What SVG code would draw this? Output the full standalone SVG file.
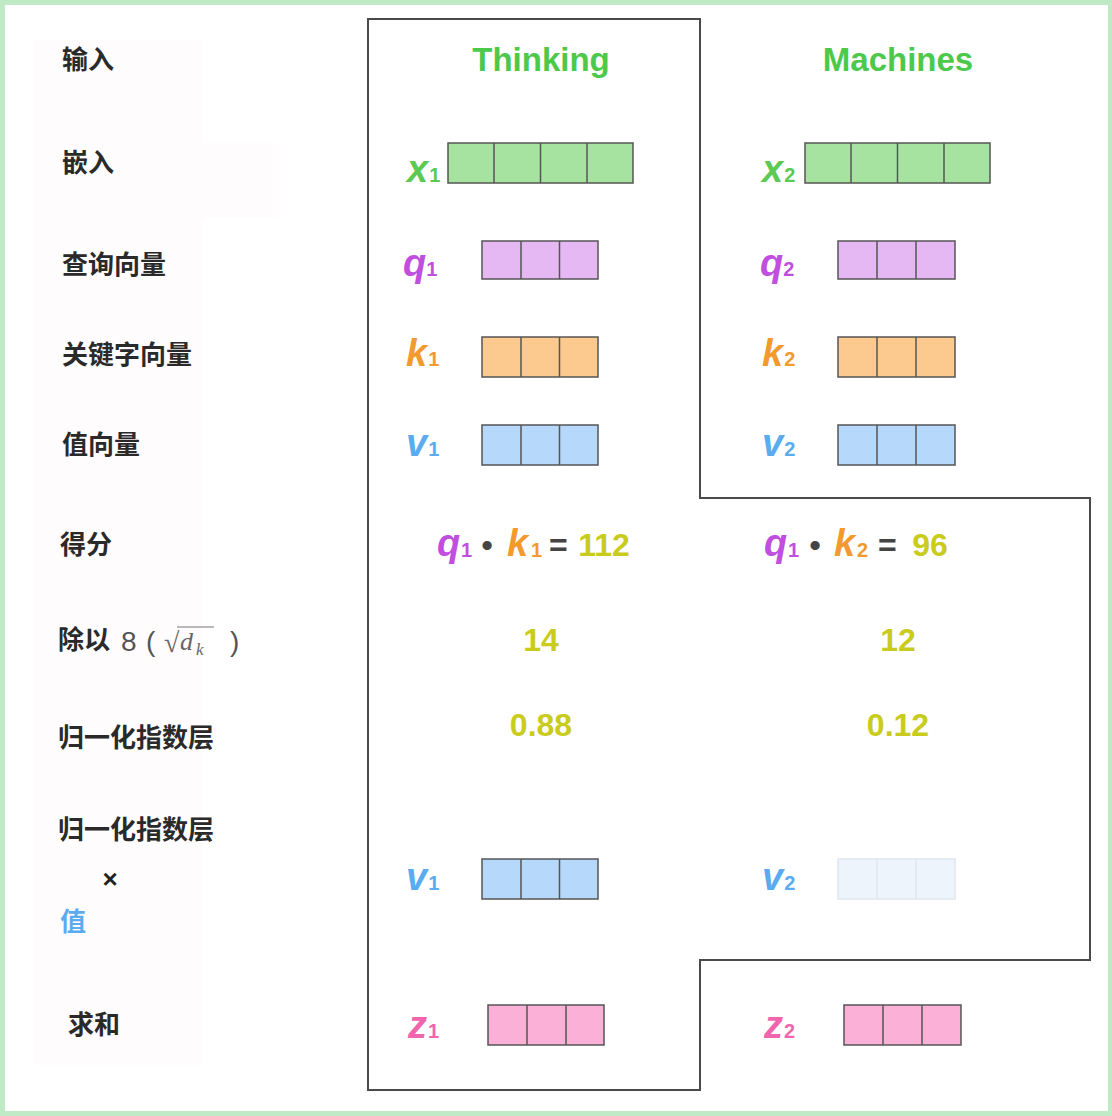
<svg xmlns="http://www.w3.org/2000/svg" width="1112" height="1116" viewBox="0 0 1112 1116">
<style>
.lbl{font-family:"Noto Sans CJK SC","Liberation Sans",sans-serif;font-size:26px;font-weight:bold;fill:#2a2a2a}
.title{font-family:"Liberation Sans",Arial,sans-serif;font-size:33px;font-weight:bold;fill:#4cc94a;text-anchor:middle}
.v{font-family:"Liberation Sans",Arial,sans-serif;font-size:38px;font-weight:bold;font-style:italic}
.sub{font-family:"Liberation Sans",Arial,sans-serif;font-size:20px;font-style:normal;font-weight:bold}
.num{font-family:"Liberation Sans",Arial,sans-serif;font-size:32px;font-weight:bold;fill:#c9cb1d;text-anchor:middle}
.op{font-family:"Liberation Sans",Arial,sans-serif;font-size:32px;font-weight:bold;fill:#444}
.cg{fill:#5cc955}.cq{fill:#c04fe0}.ck{fill:#f39a2e}.cv{fill:#5aabf0}.cz{fill:#f065ac}
.cell{stroke:#555;stroke-width:1.5}
.g{fill:#a6e3a0}.p{fill:#e6b8f3}.o{fill:#fcc98f}.b{fill:#b6d9fb}.pk{fill:#fbb1d7}
.fade{fill:#eef4fc;stroke:#dfe6ef;stroke-width:1.5}
.math{font-family:"Liberation Serif","DejaVu Serif",serif;fill:#666}
.outline{fill:none;stroke:#4a4a4a;stroke-width:2}
</style>
<rect x="0" y="0" width="1112" height="1116" fill="#bfeac5"/>
<rect x="5" y="5" width="1103" height="1106" fill="#ffffff"/>
<rect x="33" y="40" width="170" height="1025" fill="#fefcfc"/>
<rect x="200" y="143" width="77" height="75" fill="#fefcfc"/>

<g id="outline"><path class="outline" d="M368 19 H700 V498 H1090 V960 H700 V1090 H368 Z"/></g>

<g id="row-labels">
<text class="lbl" x="62" y="69">输入</text>
<text class="lbl" x="62" y="172">嵌入</text>
<text class="lbl" x="62" y="274">查询向量</text>
<text class="lbl" x="62" y="364">关键字向量</text>
<text class="lbl" x="62" y="454">值向量</text>
<text class="lbl" x="60" y="554">得分</text>
<text class="lbl" x="58" y="649">除以<tspan font-family="Liberation Sans,sans-serif" font-weight="normal" font-size="28" fill="#555" x="121" y="651">8</tspan><tspan font-family="Liberation Sans,sans-serif" font-weight="normal" font-size="28" fill="#555" x="146" y="651">(</tspan></text>
<text class="math" x="164" y="652" font-size="28">√</text>
<text class="math" x="180" y="650" font-size="26" font-style="italic">d</text>
<text class="math" x="196" y="655" font-size="17" font-style="italic">k</text>
<line x1="177" y1="627" x2="214" y2="627" stroke="#777" stroke-width="1.2"/>
<text font-family="Liberation Sans,sans-serif" font-size="28" fill="#555" x="230" y="651">)</text>
<text class="lbl" x="58" y="747">归一化指数层</text>
<text class="lbl" x="58" y="839">归一化指数层</text>
<text font-family="Liberation Sans,sans-serif" font-size="26" font-weight="bold" fill="#222" x="110" y="888" text-anchor="middle">×</text>
<text class="lbl" x="60" y="931" style="fill:#5aabf0">值</text>
<text class="lbl" x="68" y="1034">求和</text>
</g>

<g id="title-thinking"><text class="title" x="541" y="71">Thinking</text></g>
<g id="title-machines"><text class="title" x="898" y="71">Machines</text></g>

<g id="x1">
<text class="v cg" x="407" y="182">x<tspan class="sub" dx="1">1</tspan></text>
<rect class="g cell" x="448" y="143" width="185" height="40"/>
<path class="cell" d="M494 143V183M540.5 143V183M587 143V183"/>
</g>
<g id="x2">
<text class="v cg" x="762" y="182">x<tspan class="sub" dx="1">2</tspan></text>
<rect class="g cell" x="805" y="143" width="185" height="40"/>
<path class="cell" d="M851 143V183M897.5 143V183M944 143V183"/>
</g>

<g id="q1">
<text class="v cq" x="403" y="276">q<tspan class="sub" dx="0">1</tspan></text>
<rect class="p cell" x="482" y="241" width="116" height="38"/>
<path class="cell" d="M521 241V279M559.5 241V279"/>
</g>
<g id="q2">
<text class="v cq" x="760" y="276">q<tspan class="sub" dx="0">2</tspan></text>
<rect class="p cell" x="838" y="241" width="117" height="38"/>
<path class="cell" d="M877 241V279M916 241V279"/>
</g>

<g id="k1">
<text class="v ck" x="406" y="366">k<tspan class="sub" dx="1">1</tspan></text>
<rect class="o cell" x="482" y="337" width="116" height="40"/>
<path class="cell" d="M521 337V377M559.5 337V377"/>
</g>
<g id="k2">
<text class="v ck" x="762" y="366">k<tspan class="sub" dx="1">2</tspan></text>
<rect class="o cell" x="838" y="337" width="117" height="40"/>
<path class="cell" d="M877 337V377M916 337V377"/>
</g>

<g id="v1">
<text class="v cv" x="406" y="456">v<tspan class="sub" dx="1">1</tspan></text>
<rect class="b cell" x="482" y="425" width="116" height="40"/>
<path class="cell" d="M521 425V465M559.5 425V465"/>
</g>
<g id="v2">
<text class="v cv" x="762" y="456">v<tspan class="sub" dx="1">2</tspan></text>
<rect class="b cell" x="838" y="425" width="117" height="40"/>
<path class="cell" d="M877 425V465M916 425V465"/>
</g>

<g id="score1">
<text class="v cq" x="437" y="556">q</text>
<text class="sub cq" x="461" y="557">1</text>
<text class="op" x="487" y="556" text-anchor="middle">•</text>
<text class="v ck" x="507" y="556">k</text>
<text class="sub ck" x="531" y="557">1</text>
<text class="op" x="549" y="556">=</text>
<text class="num" x="604" y="556">112</text>
</g>
<g id="score2">
<text class="v cq" x="764" y="556">q</text>
<text class="sub cq" x="788" y="557">1</text>
<text class="op" x="815" y="556" text-anchor="middle">•</text>
<text class="v ck" x="834" y="556">k</text>
<text class="sub ck" x="857" y="557">2</text>
<text class="op" x="878" y="556">=</text>
<text class="num" x="930" y="556">96</text>
</g>

<g id="div1"><text class="num" x="541" y="651">14</text></g>
<g id="div2"><text class="num" x="898" y="651">12</text></g>
<g id="softmax1"><text class="num" x="541" y="736">0.88</text></g>
<g id="softmax2"><text class="num" x="898" y="736">0.12</text></g>

<g id="weighted-v1">
<text class="v cv" x="406" y="890">v<tspan class="sub" dx="1">1</tspan></text>
<rect class="b cell" x="482" y="859" width="116" height="40"/>
<path class="cell" d="M521 859V899M559.5 859V899"/>
</g>
<g id="weighted-v2">
<text class="v cv" x="762" y="890">v<tspan class="sub" dx="1">2</tspan></text>
<rect class="fade" x="838" y="859" width="117" height="40"/>
<path class="fade" d="M877 859V899M916 859V899"/>
</g>

<g id="z1">
<text class="v cz" x="408" y="1038">z<tspan class="sub" dx="1">1</tspan></text>
<rect class="pk cell" x="488" y="1005" width="116" height="40"/>
<path class="cell" d="M527 1005V1045M566 1005V1045"/>
</g>
<g id="z2">
<text class="v cz" x="764" y="1038">z<tspan class="sub" dx="1">2</tspan></text>
<rect class="pk cell" x="844" y="1005" width="117" height="40"/>
<path class="cell" d="M883 1005V1045M922 1005V1045"/>
</g>
</svg>
